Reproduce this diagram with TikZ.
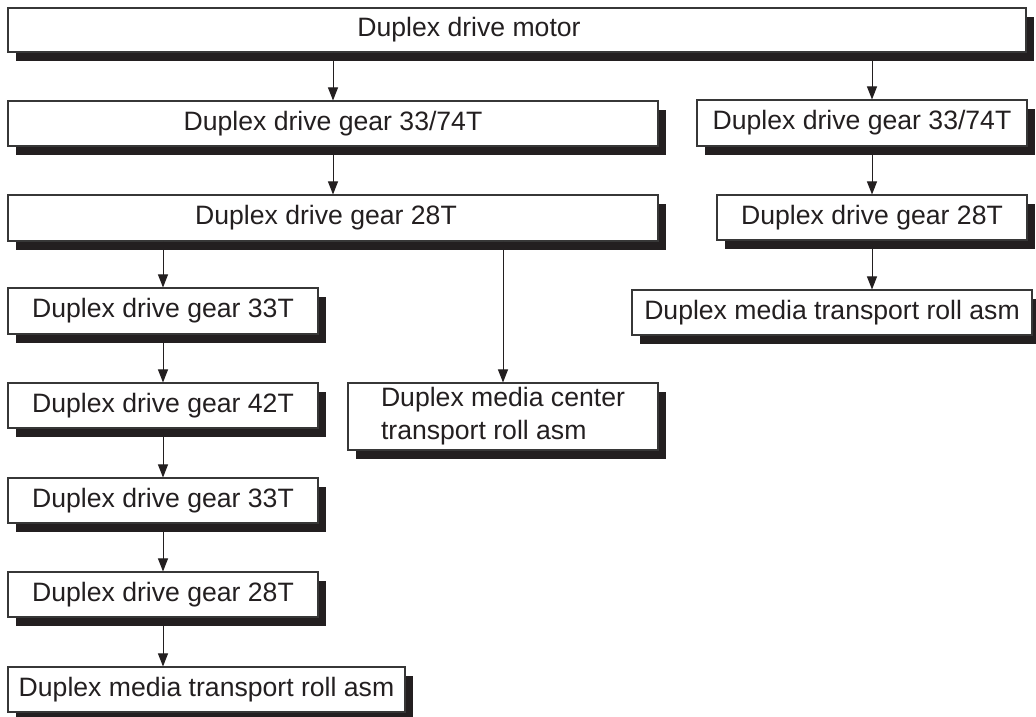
\documentclass[tikz,border=0pt]{standalone}
\usepackage{fontspec}
\setmainfont{Liberation Sans}
\usetikzlibrary{shadows,arrows.meta}
\definecolor{ink}{RGB}{35,31,32}
\definecolor{edge}{RGB}{55,55,55}
\begin{document}
\begin{tikzpicture}[x=1pt,y=-1pt,
  gbox/.style={draw=edge, line width=1.1pt, fill=white, rectangle, inner sep=0pt,
    text=ink, font=\fontsize{26.6}{33}\selectfont,
    drop shadow={shadow xshift=8pt, shadow yshift=-9pt, fill=ink, opacity=1}},
  flow/.style={draw=ink, line width=1pt, -{Triangle[width=10pt,length=13pt]}}]
\useasboundingbox (0,0) rectangle (1036,717);
\node[gbox, minimum width=1018pt, minimum height=44pt] (motor) at (517,30) {\hspace*{-96pt}Duplex drive motor};
\node[gbox, minimum width=650pt, minimum height=45pt] (l3374) at (333,123.5) {Duplex drive gear 33/74T};
\node[gbox, minimum width=330pt, minimum height=46pt] (r3374) at (862,123) {Duplex drive gear 33/74T};
\node[gbox, minimum width=650pt, minimum height=46pt] (b28) at (333,218) {\hspace*{-14pt}Duplex drive gear 28T};
\node[gbox, minimum width=310pt, minimum height=45pt] (r28) at (872,217.5) {Duplex drive gear 28T};
\node[gbox, minimum width=400pt, minimum height=45pt] (rm) at (832,312.5) {Duplex media transport roll asm};
\node[gbox, minimum width=310pt, minimum height=46pt] (g33a) at (163,311) {Duplex drive gear 33T};
\node[gbox, minimum width=310pt, minimum height=45pt] (g42) at (163,405.5) {Duplex drive gear 42T};
\node[gbox, minimum width=310pt, minimum height=67pt, align=left] (ctr) at (503,416.5) {Duplex media center\\transport roll asm};
\node[gbox, minimum width=310pt, minimum height=45pt] (g33b) at (163,500.5) {Duplex drive gear 33T};
\node[gbox, minimum width=310pt, minimum height=45pt] (g28b) at (163,594.5) {Duplex drive gear 28T};
\node[gbox, minimum width=397pt, minimum height=45pt] (bm) at (206.5,689.5) {Duplex media transport roll asm};
% connectors
\draw[flow] (motor.south -| l3374.north) -- (l3374.north);
\draw[flow] (l3374.south) -- (b28.north);
\draw[flow] (motor.south -| r28.north) -- (r3374.north -| r28.north);
\draw[flow] (r3374.south -| r28.north) -- (r28.north);
\draw[flow] (r28.south) -- (r28.south |- rm.north);
\draw[flow] (b28.south -| g33a.north) -- (g33a.north);
\draw[flow] (b28.south -| ctr.north) -- (ctr.north);
\draw[flow] (g33a.south) -- (g42.north);
\draw[flow] (g42.south) -- (g33b.north);
\draw[flow] (g33b.south) -- (g28b.north);
\draw[flow] (g28b.south) -- (g28b.south |- bm.north);
\end{tikzpicture}
\end{document}
